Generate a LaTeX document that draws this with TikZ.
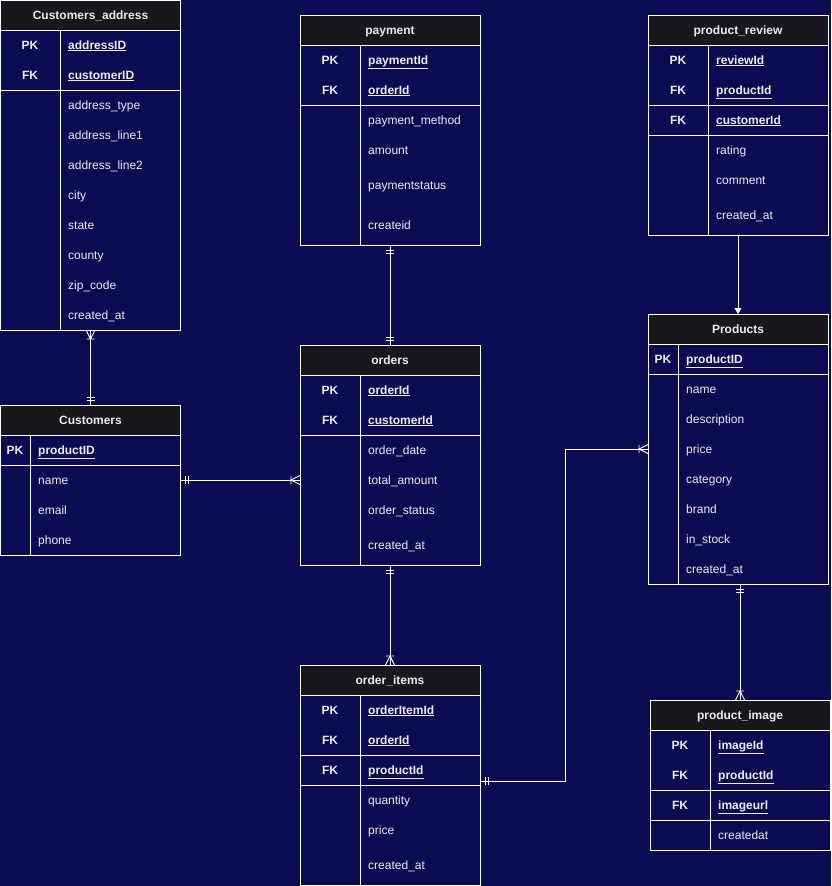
\documentclass[tikz,border=0pt]{standalone}
\usepackage{fontspec}
\setmainfont{Liberation Sans}
\usetikzlibrary{arrows.meta,calc}
\definecolor{bg}{RGB}{11,11,82}
\definecolor{hd}{RGB}{25,22,30}
\definecolor{fg}{RGB}{235,235,240}
\tikzset{
  pics/erone/.style={code={\draw[conn] (5,-4) -- (5,4) (8,-4) -- (8,4);}},
  pics/ermany/.style={code={\draw[conn] (0,-4.5) -- (9,0) -- (0,4.5) (9,-4) -- (9,4);}}
}
\begin{document}
\begin{tikzpicture}[x=1pt,y=-1pt,
  frame/.style={draw=white, line width=1pt, inner sep=0pt, outer sep=0pt, anchor=north west},
  thead/.style={draw=white, line width=1pt, fill=hd, inner sep=0pt, outer sep=0pt, anchor=north west, minimum height=30pt, text=fg, font=\fontsize{12}{14}\selectfont\bfseries, text height=9.6pt, text depth=1.4pt},
  tline/.style={draw=white, line width=1pt},
  key/.style={text=fg, font=\fontsize{12}{14}\selectfont\bfseries, inner sep=0pt, text height=9.6pt, text depth=1.4pt},
  fld/.style={text=fg, font=\fontsize{12}{14}\selectfont, inner sep=0pt, anchor=west, text height=9.6pt, text depth=1.4pt},
  kfld/.style={fld, font=\fontsize{12}{14}\selectfont\bfseries},
  conn/.style={draw=white, line width=0.9pt},
]
\useasboundingbox (0,0) rectangle (831,886);
\fill[bg] (0,0) rectangle (831,886);

% ---------- Customers_address ----------
\node[frame, minimum width=180pt, minimum height=330pt] (ca) at (0.5,0) {};
\node[thead, minimum width=180pt] (cah) at (0.5,0) {Customers\_address};
\draw[tline] (0.5,90) -- (180.5,90);
\draw[tline] (60,30) -- (60,330);
\node[key] (cak1) at (30,45) {PK};
\node[kfld] (caf1) at (68,45) {\underline{addressID}};
\node[key] (cak2) at (30,75) {FK};
\node[kfld] (caf2) at (68,75) {\underline{customerID}};
\foreach \t [count=\i from 0] in {address\_type,address\_line1,address\_line2,city,state,county,zip\_code,created\_at}
  \node[fld] (car\i) at (68,105+30*\i) {\t};

% ---------- Customers ----------
\node[frame, minimum width=180pt, minimum height=150pt] (cu) at (0.5,405) {};
\node[thead, minimum width=180pt] (cuh) at (0.5,405) {Customers};
\draw[tline] (0.5,465) -- (180.5,465);
\draw[tline] (30,435) -- (30,555);
\node[key] (cuk1) at (15,450) {PK};
\node[kfld] (cuf1) at (38,450) {\underline{productID}};
\foreach \t [count=\i from 0] in {name,email,phone}
  \node[fld] (cur\i) at (38,480+30*\i) {\t};

% ---------- payment ----------
\node[frame, minimum width=180pt, minimum height=230pt] (pa) at (300,15) {};
\node[thead, minimum width=180pt] (pah) at (300,15) {payment};
\draw[tline] (300,105) -- (480,105);
\draw[tline] (360,45) -- (360,245);
\node[key] (pak1) at (330,60) {PK};
\node[kfld] (paf1) at (368,60) {\underline{paymentId}};
\node[key] (pak2) at (330,90) {FK};
\node[kfld] (paf2) at (368,90) {\underline{orderId}};
\node[fld] (par0) at (368,120) {payment\_method};
\node[fld] (par1) at (368,150) {amount};
\node[fld] (par2) at (368,185) {paymentstatus};
\node[fld] (par3) at (368,225) {createid};

% ---------- orders ----------
\node[frame, minimum width=180pt, minimum height=220pt] (od) at (300,345) {};
\node[thead, minimum width=180pt] (odh) at (300,345) {orders};
\draw[tline] (300,435) -- (480,435);
\draw[tline] (360,375) -- (360,565);
\node[key] (odk1) at (330,390) {PK};
\node[kfld] (odf1) at (368,390) {\underline{orderId}};
\node[key] (odk2) at (330,420) {FK};
\node[kfld] (odf2) at (368,420) {\underline{customerId}};
\node[fld] (odr0) at (368,450) {order\_date};
\node[fld] (odr1) at (368,480) {total\_amount};
\node[fld] (odr2) at (368,510) {order\_status};
\node[fld] (odr3) at (368,545) {created\_at};

% ---------- order_items ----------
\node[frame, minimum width=180pt, minimum height=220pt] (oi) at (300,665) {};
\node[thead, minimum width=180pt] (oih) at (300,665) {order\_items};
\draw[tline] (300,755) -- (480,755);
\draw[tline] (300,785) -- (480,785);
\draw[tline] (360,695) -- (360,885);
\node[key] (oik1) at (330,710) {PK};
\node[kfld] (oif1) at (368,710) {\underline{orderItemId}};
\node[key] (oik2) at (330,740) {FK};
\node[kfld] (oif2) at (368,740) {\underline{orderId}};
\node[key] (oik3) at (330,770) {FK};
\node[kfld] (oif3) at (368,770) {\underline{productId}};
\node[fld] (oir0) at (368,800) {quantity};
\node[fld] (oir1) at (368,830) {price};
\node[fld] (oir2) at (368,865) {created\_at};

% ---------- product_review ----------
\node[frame, minimum width=180pt, minimum height=220pt] (pr) at (648,15) {};
\node[thead, minimum width=180pt] (prh) at (648,15) {product\_review};
\draw[tline] (648,105) -- (828,105);
\draw[tline] (648,135) -- (828,135);
\draw[tline] (708,45) -- (708,235);
\node[key] (prk1) at (678,60) {PK};
\node[kfld] (prf1) at (716,60) {\underline{reviewId}};
\node[key] (prk2) at (678,90) {FK};
\node[kfld] (prf2) at (716,90) {\underline{productId}};
\node[key] (prk3) at (678,120) {FK};
\node[kfld] (prf3) at (716,120) {\underline{customerId}};
\node[fld] (prr0) at (716,150) {rating};
\node[fld] (prr1) at (716,180) {comment};
\node[fld] (prr2) at (716,215) {created\_at};

% ---------- Products ----------
\node[frame, minimum width=180pt, minimum height=270pt] (pd) at (648,314) {};
\node[thead, minimum width=180pt] (pdh) at (648,314) {Products};
\draw[tline] (648,374) -- (828,374);
\draw[tline] (678,344) -- (678,584);
\node[key] (pdk1) at (663,359) {PK};
\node[kfld] (pdf1) at (686,359) {\underline{productID}};
\foreach \t [count=\i from 0] in {name,description,price,category,brand,in\_stock,created\_at}
  \node[fld] (pdr\i) at (686,389+30*\i) {\t};

% ---------- product_image ----------
\node[frame, minimum width=180pt, minimum height=150pt] (pi) at (650,700) {};
\node[thead, minimum width=180pt] (pih) at (650,700) {product\_image};
\draw[tline] (650,790) -- (830,790);
\draw[tline] (650,820) -- (830,820);
\draw[tline] (710,730) -- (710,850);
\node[key] (pik1) at (680,745) {PK};
\node[kfld] (pif1) at (718,745) {\underline{imageId}};
\node[key] (pik2) at (680,775) {FK};
\node[kfld] (pif2) at (718,775) {\underline{productId}};
\node[key] (pik3) at (680,805) {FK};
\node[kfld] (pif3) at (718,805) {\underline{imageurl}};
\node[fld] (pir0) at (718,835) {createdat};

% ---------- connectors ----------
\draw[conn] (ca.south) -- (cu.north);
\pic[rotate=-90] at (ca.south) {ermany};
\pic[rotate=90] at (cu.north) {erone};

\draw[conn] (cu.east) -- (cu.east -| od.west);
\pic at (cu.east) {erone};
\pic[rotate=180] at (cu.east -| od.west) {ermany};

\draw[conn] (pa.south) -- (od.north);
\pic[rotate=-90] at (pa.south) {erone};
\pic[rotate=90] at (od.north) {erone};

\draw[conn] (od.south) -- (oi.north);
\pic[rotate=-90] at (od.south) {erone};
\pic[rotate=90] at (oi.north) {ermany};

\coordinate (j1) at (565,781);
\coordinate (j2) at (565,449);
\draw[conn] (oi.east |- j1) -- (j1) -- (j2) -- (j2 -| pd.west);
\pic at (oi.east |- j1) {erone};
\pic[rotate=180] at (j2 -| pd.west) {ermany};

\draw[conn, -{Triangle[length=6pt,width=7pt]}] (pr.south) -- (pd.north);

\draw[conn] (pd.south -| pi.north) -- (pi.north);
\pic[rotate=-90] at (pd.south -| pi.north) {erone};
\pic[rotate=90] at (pi.north) {ermany};
\end{tikzpicture}
\end{document}
